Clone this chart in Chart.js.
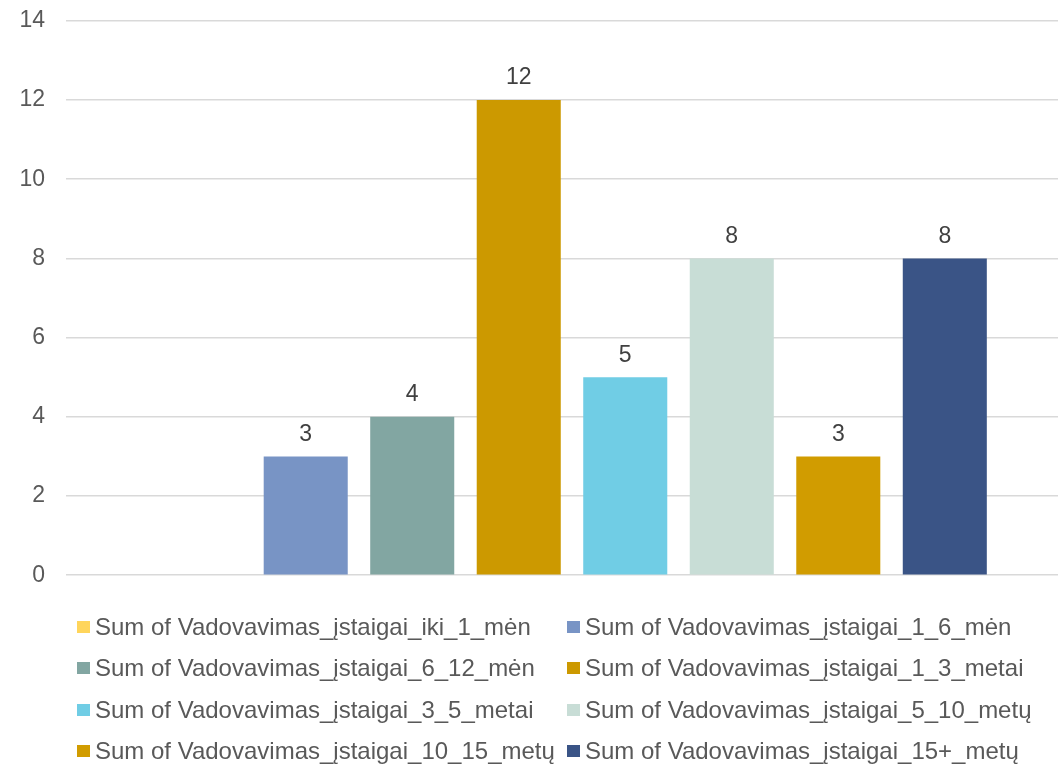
<!DOCTYPE html>
<html>
<head>
<meta charset="utf-8">
<script src="https://cdn.jsdelivr.net/npm/chart.js@4/dist/chart.umd.min.js"></script>
<style>
  html, body { margin: 0; padding: 0; background: #fff; overflow: hidden; }
  #wrap { position: relative; width: 1078px; height: 624px; margin-top: -14px; }
  #legend {
    position: absolute; left: 77px; top: 606px;
    display: grid; grid-template-columns: 490px 490px; row-gap: 0;
    font-family: Arial, "Liberation Sans", sans-serif; font-size: 24px; color: #595959;
  }
  .item { height: 41.5px; display: flex; align-items: center; white-space: nowrap; }
  .box { width: 13px; height: 12px; margin-right: 5px; flex: none; }
</style>
</head>
<body>
<div id="wrap"><canvas id="chart"></canvas></div>
<div id="legend"></div>
<script>
const categories = [""];
const series_labels = [
  "Sum of Vadovavimas_įstaigai_iki_1_mėn",
  "Sum of Vadovavimas_įstaigai_1_6_mėn",
  "Sum of Vadovavimas_įstaigai_6_12_mėn",
  "Sum of Vadovavimas_įstaigai_1_3_metai",
  "Sum of Vadovavimas_įstaigai_3_5_metai",
  "Sum of Vadovavimas_įstaigai_5_10_metų",
  "Sum of Vadovavimas_įstaigai_10_15_metų",
  "Sum of Vadovavimas_įstaigai_15+_metų"
];
const series_values = [null, 3, 4, 12, 5, 8, 3, 8];
const series_colours = ["#FFD55B", "#7894C5", "#82A6A2", "#CC9900", "#70CDE5", "#C8DDD6", "#D19C00", "#3A5486"];
const y_ticks = [0, 2, 4, 6, 8, 10, 12, 14];

const font_family = "Arial, 'Liberation Sans', sans-serif";

// value labels above each bar (no datalabels plugin available offline)
const valueLabels = {
  id: "valueLabels",
  afterDatasetsDraw(chart) {
    const ctx = chart.ctx;
    ctx.save();
    ctx.font = "23px " + font_family;
    ctx.fillStyle = "#404040";
    ctx.textAlign = "center";
    ctx.textBaseline = "middle";
    chart.data.datasets.forEach((ds, i) => {
      const meta = chart.getDatasetMeta(i);
      meta.data.forEach((bar, j) => {
        const v = ds.data[j];
        if (v === null || v === undefined) return;
        ctx.fillText(String(v), bar.x, bar.y - 22);
      });
    });
    ctx.restore();
  }
};

const datasets = series_labels.map((label, i) => ({
  label: label,
  data: [series_values[i]],
  backgroundColor: series_colours[i],
  borderWidth: 0,
  categoryPercentage: 0.842,
  barPercentage: 0.789
}));

const chart = new Chart(document.getElementById("chart"), {
  type: "bar",
  data: { labels: categories, datasets: datasets },
  options: {
    responsive: true,
    maintainAspectRatio: false,
    animation: false,
    layout: { padding: { top: 6, bottom: 16, left: 0, right: 0 } },
    plugins: { legend: { display: false }, tooltip: { enabled: false } },
    scales: {
      x: { display: false },
      y: {
        min: 0,
        max: 14,
        afterBuildTicks: (scale) => { scale.ticks = y_ticks.map(v => ({ value: v })); },
        afterFit: (scale) => { scale.width = 66; },
        border: { display: false },
        grid: { color: "#D9D9D9", lineWidth: 1.5, drawTicks: false },
        ticks: {
          padding: 21,
          color: "#595959",
          font: { family: font_family, size: 23 }
        }
      }
    }
  },
  plugins: [valueLabels]
});

const legend_el = document.getElementById("legend");
series_labels.forEach((label, i) => {
  const item = document.createElement("div");
  item.className = "item";
  const box = document.createElement("span");
  box.className = "box";
  box.style.background = series_colours[i];
  const txt = document.createElement("span");
  txt.textContent = label;
  item.appendChild(box);
  item.appendChild(txt);
  legend_el.appendChild(item);
});
</script>
</body>
</html>
